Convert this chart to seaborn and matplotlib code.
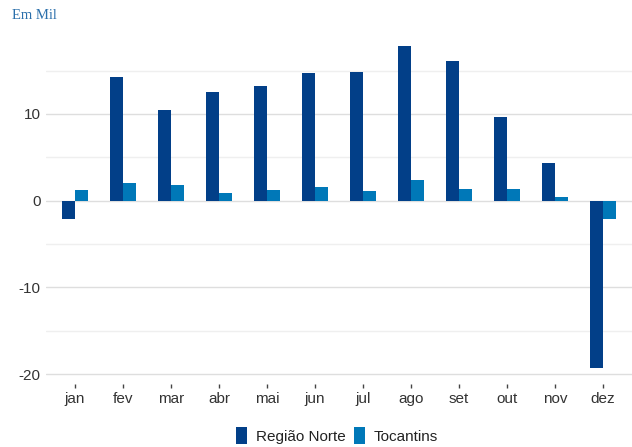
import matplotlib
matplotlib.use("Agg")
import matplotlib.pyplot as plt
from matplotlib.patches import Patch
from matplotlib.ticker import MultipleLocator
import pandas as pd
import seaborn as sns

# Saldo mensal de empregos (em mil)
meses = ["jan", "fev", "mar", "abr", "mai", "jun", "jul", "ago", "set", "out", "nov", "dez"]
regiao_norte = [-2.1, 14.3, 10.4, 12.5, 13.2, 14.7, 14.8, 17.8, 16.1, 9.7, 4.4, -19.3]
tocantins = [1.2, 2.0, 1.8, 0.9, 1.2, 1.6, 1.1, 2.4, 1.4, 1.4, 0.4, -2.1]
series = ["Região Norte", "Tocantins"]
cores = ["#023f88", "#0078b8"]

df = pd.DataFrame({
    "mes": meses * 2,
    "valor": regiao_norte + tocantins,
    "serie": [series[0]] * len(meses) + [series[1]] * len(meses),
})

sns.set_theme(style="white")
plt.rcParams["font.family"] = ["Liberation Sans", "DejaVu Sans"]

fig = plt.figure(figsize=(6.32, 4.47), dpi=100)
ax = fig.add_axes([46 / 632, 1 - 384 / 447, 1 - 46 / 632, (384 - 31.6) / 447])

sns.barplot(data=df, x="mes", y="valor", hue="serie", order=meses,
            hue_order=series, palette=cores, width=0.54, gap=0,
            saturation=1, legend=False, ax=ax, zorder=3, linewidth=0,
            edgecolor="none")

ax.set_xlim(-0.6, 11.6)
ax.set_ylim(-21.15, 19.5)
ax.yaxis.set_major_locator(MultipleLocator(10))
ax.yaxis.set_minor_locator(MultipleLocator(5))
ax.grid(True, which="major", axis="y", color="#dedede", linewidth=1.0, zorder=0)
ax.grid(True, which="minor", axis="y", color="#efefef", linewidth=1.0, zorder=0)
ax.set_axisbelow(True)
for s in ax.spines.values():
    s.set_visible(False)

ax.set_xlabel("")
ax.set_ylabel("")
ax.tick_params(axis="y", which="both", length=0, pad=4, labelsize=11, labelcolor="#333333")
ax.tick_params(axis="x", length=3, width=1, color="#444444", pad=3,
               labelsize=11, labelcolor="#333333", direction="out")
ax.xaxis.set_ticks_position("bottom")
ax.set_yticks([-20, -10, 0, 10])
ax.set_yticklabels(["-20", "-10", "0", "10"])

handles = [Patch(facecolor=c, edgecolor="none", label=l) for c, l in zip(cores, series)]
fig.legend(handles=handles, loc="lower center", ncol=2, frameon=False,
           bbox_to_anchor=(0.533, -0.018), fontsize=11, handlelength=0.75,
           handleheight=1.4, handletextpad=0.55, columnspacing=0.55,
           labelcolor="#222222", borderaxespad=0.3)

fig.text(12 / 632, 1 - 19 / 447, "Em Mil", family=["Liberation Serif", "DejaVu Serif"],
         fontsize=10.5, color="#2a6fab", va="baseline", ha="left")

fig.savefig("out.png", dpi=100)
